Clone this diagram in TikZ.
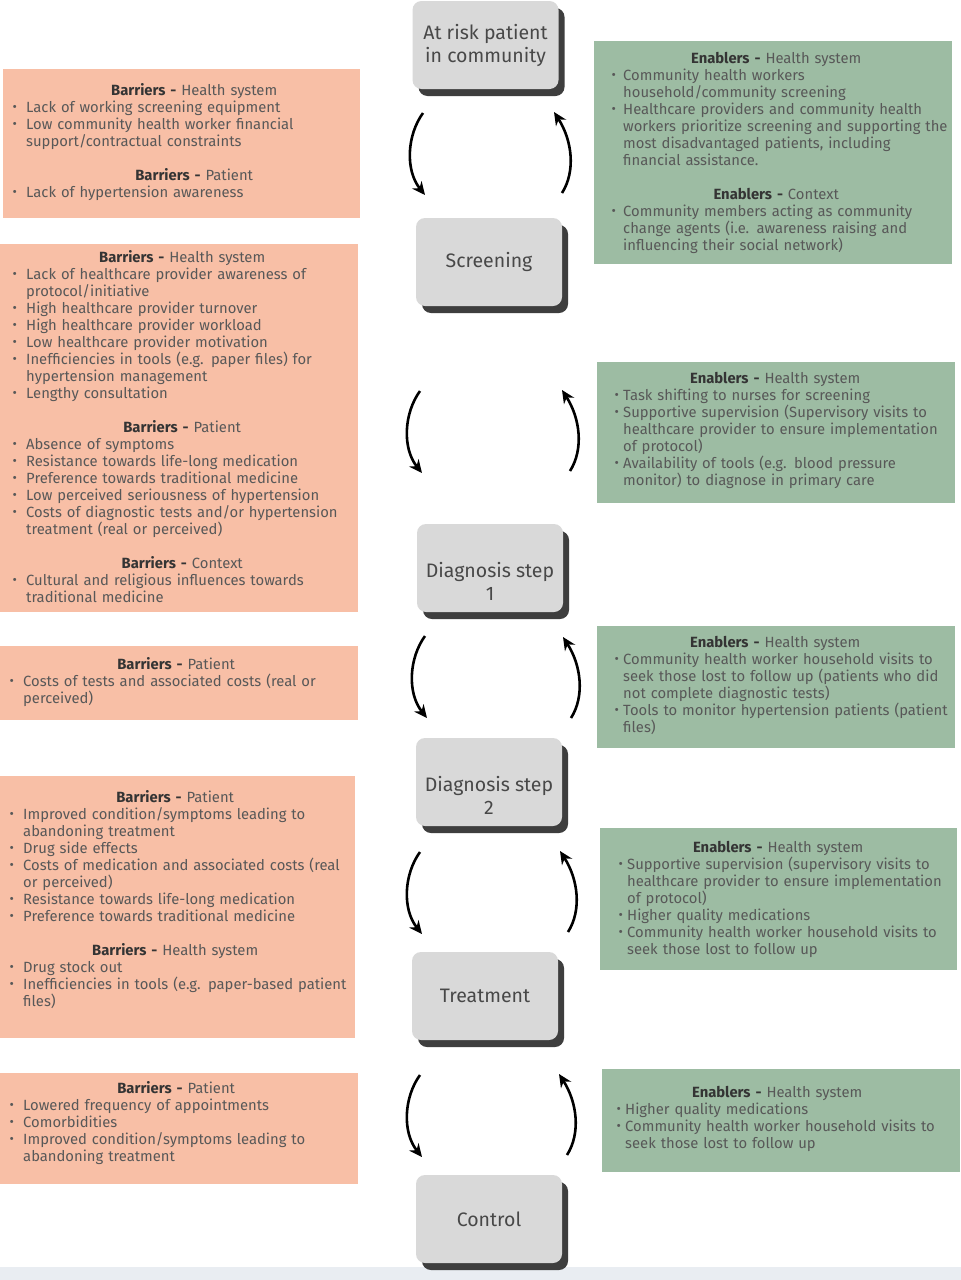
\documentclass[tikz,border=0pt]{standalone}
\usepackage{fontspec}
\setmainfont{Fira Sans}
\usetikzlibrary{arrows.meta,shadows}
\definecolor{peach}{RGB}{248,191,166}
\definecolor{sage}{RGB}{157,188,163}
\definecolor{boxgray}{RGB}{217,217,217}
\definecolor{shadowgray}{RGB}{62,62,62}
\definecolor{txtc}{RGB}{88,88,88}
\definecolor{stagec}{RGB}{72,72,72}
\definecolor{hdc}{RGB}{52,52,52}
\definecolor{stripc}{RGB}{233,237,242}
\setlength\parindent{0pt}
\newlength\hw
\newlength\bw
\newcommand\setup[2]{\setlength\hw{#1pt}\setlength\bw{#2pt}}
\newcommand\hd[2]{\par\noindent\hbox to \hw{\hss{\color{hdc}\bfseries #1 -} #2\hss}\par}
\newcommand\bl[1]{\par\noindent\hangindent=\bw\hangafter=1\makebox[\bw][l]{\hspace{0.5pt}\raisebox{0.3pt}{\scalebox{0.9}{\textbullet}}}#1\par}
\newcommand\gap{\par\vskip17pt}
\tikzset{
  stage/.style={rectangle, rounded corners=9pt, fill=boxgray, minimum width=146pt, minimum height=88pt,
    align=center, inner sep=0pt, font=\fontsize{19.5}{23}\selectfont, text=stagec,
    drop shadow={shadow xshift=6pt, shadow yshift=-7pt, fill=shadowgray, opacity=1}},
  stagetext/.style={align=center, inner sep=0pt, font=\fontsize{19.5}{23}\selectfont, text=stagec},
  barbox/.style={rectangle, fill=peach, anchor=north west, inner sep=0pt},
  enbox/.style={rectangle, fill=sage, anchor=north west, inner sep=0pt},
  txt/.style={anchor=north west, inner sep=0pt, text=txtc, text width=430pt, align=left,
    font=\fontsize{14.8}{17}\selectfont},
  arr/.style={line width=2.6pt, -{Stealth[length=13pt,width=12pt]}},
}
\begin{document}
\begin{tikzpicture}[x=1pt,y=-1pt]
\useasboundingbox (0,0) rectangle (961,1280);
\fill[white] (0,0) rectangle (961,1280);
\fill[stripc] (0,1267) rectangle (961,1280);

% central stages
\node[stage] (b1) at (485.5,45) {At risk patient\\in community};
\node[stage] (b2) at (489,262) {Screening};
\node[stage] (b3) at (490,568) {};
\node[stagetext] (b3t) at (490,581) {Diagnosis step\\1};
\node[stage] (b4) at (489,782) {};
\node[stagetext] (b4t) at (489,795) {Diagnosis step\\2};
\node[stage] (b5) at (485,996) {Treatment};
\node[stage] (b6) at (489,1219) {Control};

% arrows
\foreach \i/\ly/\lx/\ry/\rx in {1/113/423/193/562, 2/391/420/471/570, 3/636/425/718/571, 4/852/420/932/568, 5/1075/420/1155/567}{
  \coordinate (la\i) at (\lx,\ly);
  \coordinate (lb\i) at (\lx+2,\ly+82);
  \coordinate (ra\i) at (\rx,\ry);
  \coordinate (rb\i) at (\rx-8,\ry-81);
  \draw[arr] (la\i) .. controls +(-16,22) and +(-20,-25) .. (lb\i);
  \draw[arr] (ra\i) .. controls +(14,-22) and +(18,28) .. (rb\i);
}

% barrier boxes
\node[barbox, minimum width=357pt, minimum height=149pt] (L1) at (3,69) {};
\node[txt] (L1t) at (12,78) {\setup{364}{14}%
\hd{Barriers}{Health system}
\bl{Lack of working screening equipment}
\bl{Low community health worker financial\newline support/contractual constraints}
\gap
\hd{Barriers}{Patient}
\bl{Lack of hypertension awareness}};

\node[barbox, minimum width=358pt, minimum height=368pt] (L2) at (0,244) {};
\node[txt] (L2t) at (12,245) {\setup{340}{14}%
\hd{Barriers}{Health system}
\bl{Lack of healthcare provider awareness of\newline protocol/initiative}
\bl{High healthcare provider turnover}
\bl{High healthcare provider workload}
\bl{Low healthcare provider motivation}
\bl{Inefficiencies in tools (e.g. paper files) for\newline hypertension management}
\bl{Lengthy consultation}
\gap
\hd{Barriers}{Patient}
\bl{Absence of symptoms}
\bl{Resistance towards life-long medication}
\bl{Preference towards traditional medicine}
\bl{Low perceived seriousness of hypertension}
\bl{Costs of diagnostic tests and/or hypertension\newline treatment (real or perceived)}
\gap
\hd{Barriers}{Context}
\bl{Cultural and religious influences towards\newline traditional medicine}};

\node[barbox, minimum width=358pt, minimum height=74pt] (L3) at (0,646) {};
\node[txt] (L3t) at (9,652) {\setup{334}{14}%
\hd{Barriers}{Patient}
\bl{Costs of tests and associated costs (real or\newline perceived)}};

\node[barbox, minimum width=355pt, minimum height=262pt] (L4) at (0,776) {};
\node[txt] (L4t) at (9,785) {\setup{332}{14}%
\hd{Barriers}{Patient}
\bl{Improved condition/symptoms leading to\newline abandoning treatment}
\bl{Drug side effects}
\bl{Costs of medication and associated costs (real\newline or perceived)}
\bl{Resistance towards life-long medication}
\bl{Preference towards traditional medicine}
\gap
\hd{Barriers}{Health system}
\bl{Drug stock out}
\bl{Inefficiencies in tools (e.g. paper-based patient\newline files)}};

\node[barbox, minimum width=358pt, minimum height=111pt] (L5) at (0,1073) {};
\node[txt] (L5t) at (9,1076) {\setup{334}{14}%
\hd{Barriers}{Patient}
\bl{Lowered frequency of appointments}
\bl{Comorbidities}
\bl{Improved condition/symptoms leading to\newline abandoning treatment}};

% enabler boxes
\node[enbox, minimum width=358pt, minimum height=223pt] (R1) at (594,41) {};
\node[txt] (R1t) at (611,46) {\setup{330}{12}%
\hd{Enablers}{Health system}
\bl{Community health workers\newline household/community screening}
\bl{Healthcare providers and community health\newline workers prioritize screening and supporting the\newline most disadvantaged patients, including\newline financial assistance.}
\gap
\hd{Enablers}{Context}
\bl{Community members acting as community\newline change agents (i.e. awareness raising and\newline influencing their social network)}};

\node[enbox, minimum width=358pt, minimum height=141pt] (R2) at (597,362) {};
\node[txt] (R2t) at (614,366) {\setup{322}{9}%
\hd{Enablers}{Health system}
\bl{Task shifting to nurses for screening}
\bl{Supportive supervision (Supervisory visits to\newline healthcare provider to ensure implementation\newline of protocol)}
\bl{Availability of tools (e.g. blood pressure\newline monitor) to diagnose in primary care}};

\node[enbox, minimum width=358pt, minimum height=122pt] (R3) at (597,626) {};
\node[txt] (R3t) at (614,630) {\setup{322}{9}%
\hd{Enablers}{Health system}
\bl{Community health worker household visits to\newline seek those lost to follow up (patients who did\newline not complete diagnostic tests)}
\bl{Tools to monitor hypertension patients (patient\newline files)}};

\node[enbox, minimum width=357pt, minimum height=142pt] (R4) at (600,828) {};
\node[txt] (R4t) at (618,835) {\setup{320}{9}%
\hd{Enablers}{Health system}
\bl{Supportive supervision (supervisory visits to\newline healthcare provider to ensure implementation\newline of protocol)}
\bl{Higher quality medications}
\bl{Community health worker household visits to\newline seek those lost to follow up}};

\node[enbox, minimum width=358pt, minimum height=103pt] (R5) at (602,1069) {};
\node[txt] (R5t) at (616,1080) {\setup{322}{9}%
\hd{Enablers}{Health system}
\bl{Higher quality medications}
\bl{Community health worker household visits to\newline seek those lost to follow up}};
\end{tikzpicture}
\end{document}
